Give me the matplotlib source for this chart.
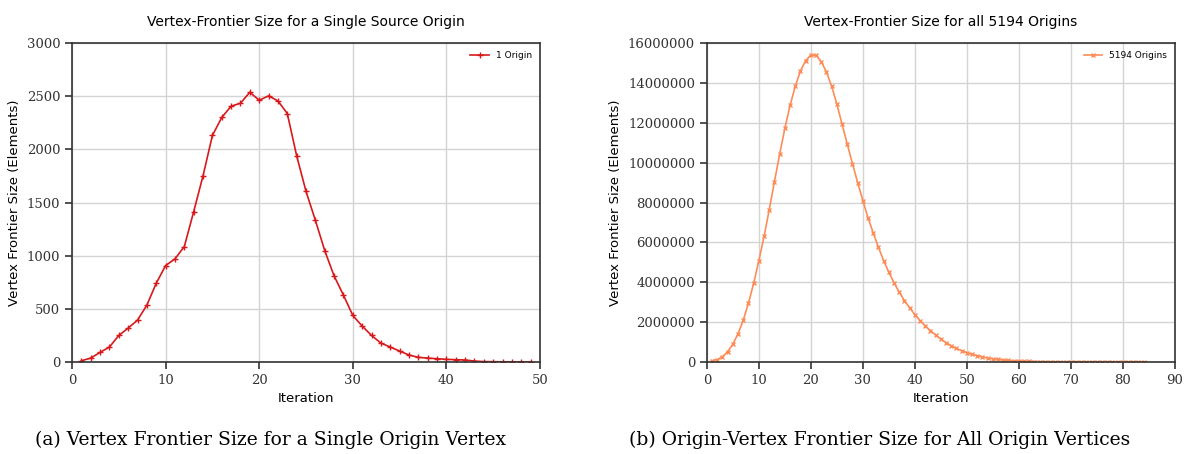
"""
Vertex-frontier size per iteration: single origin vs. all origins
"""

import matplotlib.pyplot as plt

# single source origin, iterations 1..49
single_iter = list(range(1, 50))
single_size = [12, 37, 91, 141, 250, 319, 394, 535, 741, 907,
               970, 1086, 1414, 1752, 2131, 2300, 2406, 2434, 2537, 2462,
               2503, 2456, 2337, 1940, 1605, 1333, 1048, 810, 629, 438,
               338, 250, 178, 141, 103, 66, 44, 37, 31, 25,
               22, 19, 9, 4, 3, 2, 1, 1, 0]

# all 5194 origins, iterations 1..84
all_iter = list(range(1, 85))
all_size = [70000, 120000, 270000, 520000, 900000, 1420000, 2100000, 2950000, 3950000, 5080000,
            6300000, 7650000, 9050000, 10430000, 11720000, 12870000, 13830000, 14600000, 15120000, 15400000,
            15380000, 15070000, 14550000, 13830000, 12930000, 11930000, 10930000, 9950000, 9000000, 8100000,
            7230000, 6470000, 5750000, 5080000, 4500000, 3970000, 3500000, 3080000, 2720000, 2380000,
            2080000, 1820000, 1570000, 1350000, 1150000, 970000, 820000, 680000, 570000, 470000,
            380000, 320000, 250000, 200000, 160000, 130000, 100000, 80000, 60000, 50000,
            40000, 32000, 25000, 20000, 15000, 12000, 9000, 7000, 5000, 4000,
            3000, 2500, 2000, 1500, 1000, 800, 600, 400, 300, 200,
            150, 100, 50, 20]

sans = ['DejaVu Sans']
serif = ['DejaVu Serif']

fig = plt.figure(figsize=(11.9, 4.54), dpi=100)
ax1 = fig.add_axes([0.0605, 0.2026, 0.3933, 0.7026])
ax2 = fig.add_axes([0.594, 0.2026, 0.3933, 0.7026])


def style_axes(ax, xmax, xstep, ymax, ystep, title):
    ax.set_xlim(0, xmax)
    ax.set_ylim(0, ymax)
    ax.set_xticks(range(0, xmax + 1, xstep))
    ax.set_yticks(range(0, ymax + 1, ystep))
    ax.grid(True, color='#d4d4d4', linewidth=1.0)
    ax.set_axisbelow(True)
    for s in ax.spines.values():
        s.set_color('#333333')
        s.set_linewidth(1.2)
    ax.tick_params(direction='out', length=5, width=1.2, color='#333333',
                   top=False, right=False, labelsize=9.5)
    for lab in ax.get_xticklabels() + ax.get_yticklabels():
        lab.set_family(serif)
        lab.set_color('#333333')
    ax.set_title(title, fontsize=10, family=sans, pad=12)
    ax.set_xlabel('Iteration', fontsize=9.5, family=sans)
    ax.set_ylabel('Vertex Frontier Size (Elements)', fontsize=9.5, family=sans)


ax1.plot(single_iter, single_size, color='#d7191c', marker='+', markersize=4,
         linewidth=1.2, label='1 Origin')
ax2.plot(all_iter, all_size, color='#fc8d59', marker='x', markersize=2.5,
         linewidth=1.2, label='5194 Origins')

style_axes(ax1, 50, 10, 3000, 500, 'Vertex-Frontier Size for a Single Source Origin')
style_axes(ax2, 90, 10, 16000000, 2000000, 'Vertex-Frontier Size for all 5194 Origins')
ax2.ticklabel_format(axis='y', style='plain', useOffset=False)
for lab in ax2.get_yticklabels():
    lab.set_family(serif)

for ax in (ax1, ax2):
    ax.legend(loc='upper right', frameon=False, prop={'family': sans, 'size': 6.5})

fig.text(0.227, 0.031, '(a) Vertex Frontier Size for a Single Origin Vertex',
         ha='center', va='center', fontsize=13.5, family=serif)
fig.text(0.739, 0.031, '(b) Origin-Vertex Frontier Size for All Origin Vertices',
         ha='center', va='center', fontsize=13.5, family=serif)

fig.savefig('out.png', dpi=100)
